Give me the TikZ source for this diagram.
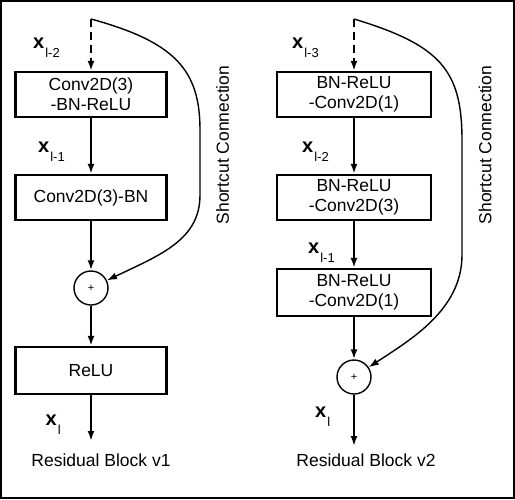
\documentclass[tikz,border=0pt]{standalone}
\usepackage{fontspec}
\setmainfont{Liberation Sans}
\usetikzlibrary{arrows.meta}
% bold x with a small subscript set lower
\newcommand\featx[1]{x\kern1pt\raisebox{-9pt}{\normalfont\fontsize{13}{13}\selectfont #1}}
\begin{document}
\begin{tikzpicture}[x=1pt,y=-1pt,
  layer/.style={draw,line width=2.3pt,minimum width=151pt,minimum height=45pt,inner sep=0pt,
    align=center,font=\fontsize{17.5}{20}\selectfont},
  sumnode/.style={draw,circle,line width=1.4pt,minimum size=34pt,inner sep=0pt,
    font=\fontsize{11}{11}\selectfont},
  flow/.style={line width=2.2pt,-{Latex[length=10pt,width=7pt]}},
  skipin/.style={flow,dash pattern=on 8pt off 5pt},
  shortcut/.style={line width=1.4pt,-{Latex[length=10pt,width=7pt]}},
  caption/.style={inner sep=0pt,font=\fontsize{17.5}{20}\selectfont},
  featlabel/.style={anchor=base west,inner sep=0pt,font=\fontsize{20}{20}\selectfont\bfseries},
]
\useasboundingbox (0,0) rectangle (515,499);
\draw[line width=1.5pt] (0.75,0.75) rectangle (513.75,497.75);

% ---------------- Residual block v1 ----------------
\coordinate (s1) at (91,19);
\node[layer] (a1) at (91,94.5) {Conv2D(3)\\-BN-ReLU};
\node[layer] (a2) at (91,197.5) {Conv2D(3)-BN};
\node[sumnode] (p1) at (91,288) {+};
\node[layer,minimum height=47pt] (a3) at (91,370.5) {ReLU};
\coordinate (o1) at (91,441);

\draw[skipin] (s1) -- (a1.north);
\draw[flow] (a1.south) -- (a2.north);
\draw[flow] (a2.south) -- (p1.north);
\draw[flow] (p1.south) -- (a3.north);
\draw[flow] (a3.south) -- (o1);
\draw[shortcut] (s1) .. controls (175,42) and (200,70) .. (200,130)
  -- (200,195) .. controls (200,240) and (160,255) .. (p1);

\node[featlabel] (l1a) at (33,48) {\featx{l-2}};
\node[featlabel] (l1b) at (38,152.5) {\featx{l-1}};
\node[featlabel] (l1c) at (45.5,425) {\featx{l}};
\node[caption,rotate=90] (sc1) at (222.5,145) {Shortcut Connection};
\node[caption] (t1) at (101,460) {Residual Block v1};

% ---------------- Residual block v2 ----------------
\coordinate (s2) at (354,19);
\node[layer,minimum width=154pt] (b1) at (354,94.5) {BN-ReLU\\-Conv2D(1)};
\node[layer,minimum width=154pt] (b2) at (354,197.5) {BN-ReLU\\-Conv2D(3)};
\node[layer,minimum width=154pt,minimum height=47pt] (b3) at (354,292.5) {BN-ReLU\\-Conv2D(1)};
\node[sumnode] (p2) at (354,377) {+};
\coordinate (o2) at (354,446);

\draw[skipin] (s2) -- (b1.north);
\draw[flow] (b1.south) -- (b2.north);
\draw[flow] (b2.south) -- (b3.north);
\draw[flow] (b3.south) -- (p2.north);
\draw[flow] (p2.south) -- (o2);
\draw[shortcut] (s2) .. controls (440,45) and (462,70) .. (462,140)
  -- (462,255) .. controls (462,310) and (410,340) .. (p2);

\node[featlabel] (l2a) at (292,48) {\featx{l-3}};
\node[featlabel] (l2b) at (302,152.5) {\featx{l-2}};
\node[featlabel] (l2c) at (308,253) {\featx{l-1}};
\node[featlabel] (l2d) at (315,417) {\featx{l}};
\node[caption,rotate=90] (sc2) at (485,145) {Shortcut Connection};
\node[caption] (t2) at (366,460) {Residual Block v2};
\end{tikzpicture}
\end{document}
